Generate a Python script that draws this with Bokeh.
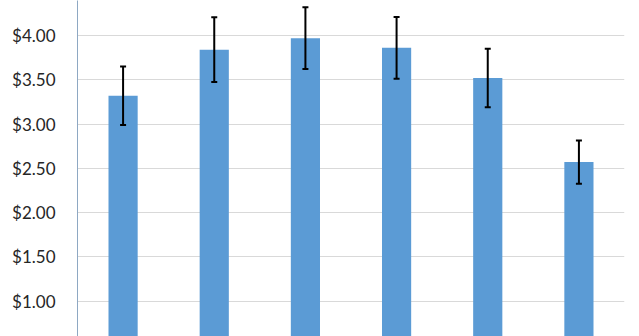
from bokeh.plotting import figure
from bokeh.models import Range1d, FactorRange, FixedTicker, NumeralTickFormatter, Whisker, TeeHead, ColumnDataSource
from bokeh.embed import file_html
from bokeh.resources import INLINE

categories = ["1", "2", "3", "4", "5", "6"]
values = [3.32, 3.84, 3.97, 3.86, 3.52, 2.57]
errors = [0.33, 0.365, 0.35, 0.35, 0.33, 0.245]
tick_values = [1.0, 1.5, 2.0, 2.5, 3.0, 3.5, 4.0]

src = ColumnDataSource(dict(
    x=categories, top=values,
    upper=[v + e for v, e in zip(values, errors)],
    lower=[v - e for v, e in zip(values, errors)],
))

p = figure(width=639, height=336, x_range=FactorRange(*categories), y_range=Range1d(0.6, 4.395),
           output_backend="svg", toolbar_location=None, x_axis_location=None,
           min_border_left=77, min_border_right=15, min_border_top=0, min_border_bottom=0)
p.outline_line_color = None
p.background_fill_color = "white"
p.border_fill_color = "white"

p.vbar(x="x", top="top", bottom=0, width=0.32, source=src, fill_color="#5B9BD5", line_color=None)
w = Whisker(base="x", upper="upper", lower="lower", source=src, line_color="black", line_width=2,
            upper_head=TeeHead(size=6, line_color="black", line_width=2),
            lower_head=TeeHead(size=6, line_color="black", line_width=2), level="overlay")
p.add_layout(w)

p.xgrid.grid_line_color = None
p.ygrid.grid_line_color = "#D9D9D9"
p.ygrid.ticker = FixedTicker(ticks=tick_values)
ax = p.yaxis[0]
ax.ticker = FixedTicker(ticks=tick_values)
ax.formatter = NumeralTickFormatter(format="$0.00")
ax.major_tick_line_color = None
ax.minor_tick_line_color = None
ax.major_tick_out = 0
ax.major_tick_in = 0
ax.major_label_standoff = 22
ax.axis_line_color = "#8EA8C3"
ax.axis_line_width = 1
ax.major_label_text_font = "Lato"
ax.major_label_text_font_size = "17px"
ax.major_label_text_color = "#262626"

open("out.html", "w").write(file_html(p, INLINE))
